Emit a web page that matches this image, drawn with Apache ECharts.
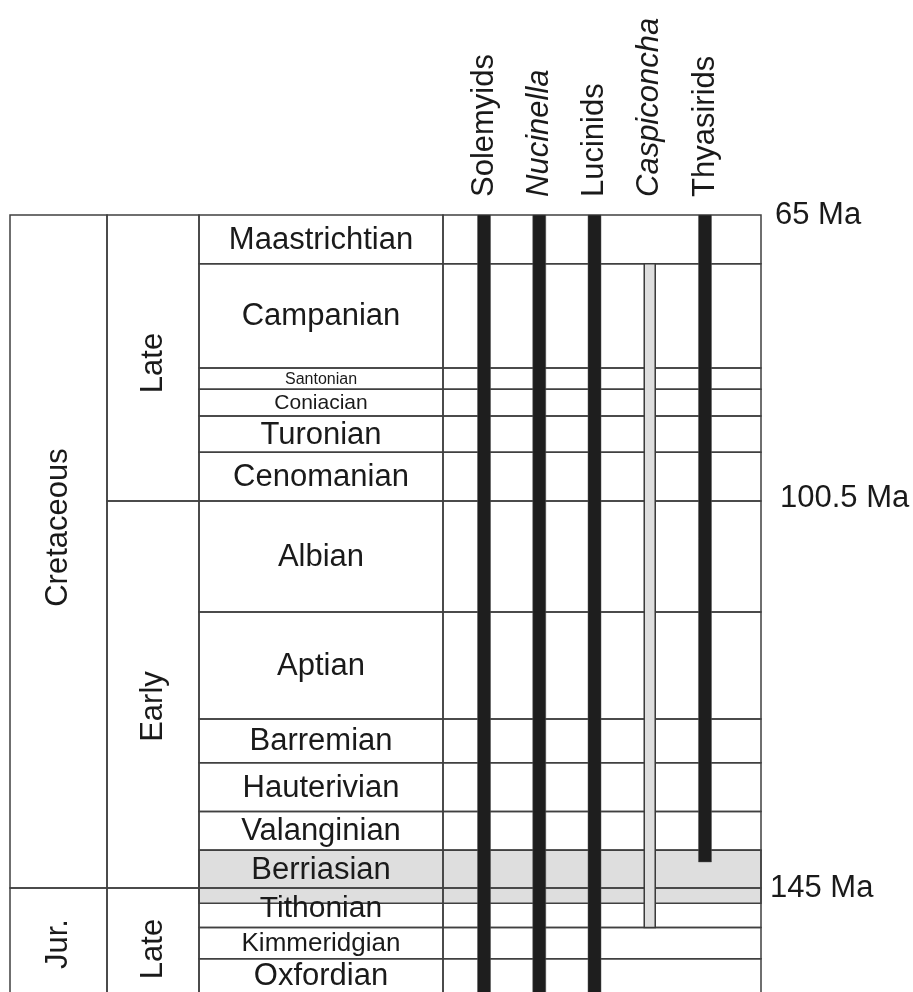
<!DOCTYPE html>
<html>
<head>
<meta charset="utf-8">
<script src="https://cdn.jsdelivr.net/npm/echarts@6/dist/echarts.min.js"></script>
<style>
  html, body { margin: 0; padding: 0; background: #fff; }
  #chart { width: 913px; height: 992px; }
</style>
</head>
<body>
<div id="chart"></div>
<script>
// time scale (schematic Ma scale, top of each unit / base)
const stages = ['Maastrichtian', 'Campanian', 'Santonian', 'Coniacian', 'Turonian', 'Cenomanian',
  'Albian', 'Aptian', 'Barremian', 'Hauterivian', 'Valanginian', 'Berriasian',
  'Tithonian', 'Kimmeridgian', 'Oxfordian']
const stageTop = [65, 70.8, 83.2, 85.7, 88.9, 93.2, 99.0, 112.2, 124.9, 130.1, 135.9, 140.5, 145.0, 149.7, 153.4]
const stageBase = [70.8, 83.2, 85.7, 88.9, 93.2, 99.0, 112.2, 124.9, 130.1, 135.9, 140.5, 145.0, 149.7, 153.4, 161]

const epochs = ['Late', 'Early', 'Late']
const epochTop = [65, 99.0, 145.0]
const epochBase = [99.0, 145.0, 161]

const periods = ['Cretaceous', 'Jur.']
const periodTop = [65, 145.0]
const periodBase = [145.0, 161]

// grey band round the J/K boundary
const bandTop = 140.5
const bandBase = 146.8

// ranges of the taxa
const taxa = ['Solemyids', 'Nucinella', 'Lucinids', 'Caspiconcha', 'Thyasirids']
const rangeTop = [65, 65, 65, 70.8, 65]
const rangeBase = [161, 161, 161, 149.7, 141.9]

const ageTicks = [65, 99.0, 145.0]
const ageLabels = ['65 Ma', '100.5 Ma', '145 Ma']

// ---- styling / layout ----
const FONT = 'Liberation Sans, Arial, sans-serif'
const INK = '#1a1a1a'
const LINE = '#404040'
const Y_MIN = 65
const Y_MAX = 161
const PX_PER_MA = 8.4125
const GRID_TOP = 215
const GRID_H = (Y_MAX - Y_MIN) * PX_PER_MA
const COLS = [[0, 97], [97, 189], [189, 433], [433, 751]] // period, epoch, stage, ranges
const italicTaxa = ['Nucinella', 'Caspiconcha']
const openTaxa = ['Caspiconcha']
const stageFont = { Santonian: 16, Coniacian: 21, Kimmeridgian: 26, Tithonian: 30 }
const labelDy = { Cretaceous: -24, Late: 5, Early: 12 }
const agePad = [0, 5, 0] // small nudges of the age labels

const cells = []
const cellNames = []
periods.forEach((p, i) => { cells.push([0, periodTop[i], periodBase[i]]); cellNames.push(p) })
epochs.forEach((p, i) => { cells.push([1, epochTop[i], epochBase[i]]); cellNames.push(p) })
stages.forEach((p, i) => { cells.push([2, stageTop[i], stageBase[i]]); cellNames.push(p) })
stages.forEach((p, i) => { cells.push([3, stageTop[i], stageBase[i]]); cellNames.push('') })

const chart = echarts.init(document.getElementById('chart'), null, { renderer: 'canvas' })

const renderBand = (params, api) => {
  const cs = params.coordSys
  const y0 = api.coord([0, api.value(0)])[1]
  const y1 = api.coord([0, api.value(1)])[1]
  return {
    type: 'rect',
    shape: { x: cs.x + COLS[2][0], y: y0, width: COLS[3][1] - COLS[2][0], height: y1 - y0 },
    style: { fill: '#dedede', stroke: LINE, lineWidth: 1.5 }
  }
}

const renderCell = (params, api) => {
  const cs = params.coordSys
  const col = api.value(0)
  const y0 = api.coord([0, api.value(1)])[1]
  const y1 = api.coord([0, api.value(2)])[1]
  const x0 = cs.x + COLS[col][0]
  const x1 = cs.x + COLS[col][1]
  const name = cellNames[params.dataIndex]
  const children = [{
    type: 'rect',
    shape: { x: x0, y: y0, width: x1 - x0, height: y1 - y0 },
    style: { fill: 'none', stroke: LINE, lineWidth: 1.5 }
  }]
  if (name) {
    if (col === 2) {
      children.push({
        type: 'text',
        x: (x0 + x1) / 2,
        y: (y0 + Math.min(y1, 992)) / 2 + 1,
        style: {
          text: name, fill: INK, align: 'center', verticalAlign: 'middle',
          font: (stageFont[name] || 31) + 'px ' + FONT
        }
      })
    } else {
      children.push({
        type: 'text',
        x: (x0 + x1) / 2,
        y: (y0 + Math.min(y1, 1000)) / 2 + (labelDy[name] || 0),
        rotation: Math.PI / 2,
        style: {
          text: name, fill: INK, align: 'center', verticalAlign: 'middle',
          font: '31px ' + FONT
        }
      })
    }
  }
  return { type: 'group', children }
}

const renderRange = (params, api) => {
  const x = api.coord([api.value(0), Y_MIN])[0]
  const y0 = api.coord([api.value(0), api.value(1)])[1]
  const y1 = api.coord([api.value(0), api.value(2)])[1]
  const open = openTaxa.includes(taxa[params.dataIndex])
  const w = open ? 11 : 13
  return {
    type: 'rect',
    shape: { x: x - w / 2, y: y0, width: w, height: y1 - y0 },
    style: open
      ? { fill: '#dedede', stroke: '#3a3a3a', lineWidth: 1.5 }
      : { fill: '#1e1e1e', stroke: '#555', lineWidth: 0.5 }
  }
}

chart.setOption({
  animation: false,
  backgroundColor: '#fff',
  grid: [
    { left: 10, width: 751, top: GRID_TOP, height: GRID_H, containLabel: false, outerBoundsMode: 'none' },
    { left: 456.4, width: 276.2, top: GRID_TOP, height: GRID_H, containLabel: false, outerBoundsMode: 'none' }
  ],
  xAxis: [
    { gridIndex: 0, type: 'value', min: 0, max: 751, show: false },
    {
      gridIndex: 1,
      type: 'category',
      data: taxa,
      position: 'top',
      axisLine: { show: false },
      axisTick: { show: false },
      splitLine: { show: false },
      axisLabel: {
        interval: 0,
        rotate: -90,
        margin: 18,
        fontSize: 31,
        fontFamily: FONT,
        color: INK,
        formatter: (v) => (italicTaxa.includes(v) ? '{i|' + v + '}' : v),
        rich: { i: { fontStyle: 'italic', fontSize: 31, fontFamily: FONT, color: INK } }
      }
    }
  ],
  yAxis: [
    {
      gridIndex: 0,
      type: 'value',
      inverse: true,
      min: Y_MIN,
      max: Y_MAX,
      position: 'right',
      axisLine: { show: false },
      axisTick: { show: false },
      splitLine: { show: false },
      axisLabel: {
        customValues: ageTicks,
        margin: 9,
        fontSize: 31,
        fontFamily: FONT,
        color: INK,
        formatter: (v) => {
          const i = ageTicks.findIndex((t) => Math.abs(t - v) < 0.01)
          return i < 0 ? '' : '{p' + i + '|' + ageLabels[i] + '}'
        },
        rich: {
          p0: { fontSize: 31, fontFamily: FONT, color: INK, padding: [0, 0, 0, 5] },
          p1: { fontSize: 31, fontFamily: FONT, color: INK, padding: [0, 0, 6, 10] },
          p2: { fontSize: 31, fontFamily: FONT, color: INK, padding: [0, 0, 0, 0] }
        }
      }
    },
    { gridIndex: 1, type: 'value', inverse: true, min: Y_MIN, max: Y_MAX, show: false }
  ],
  series: [
    {
      type: 'custom',
      xAxisIndex: 0,
      yAxisIndex: 0,
      renderItem: renderBand,
      data: [[bandTop, bandBase]],
      silent: true,
      z: 1
    },
    {
      type: 'custom',
      xAxisIndex: 0,
      yAxisIndex: 0,
      renderItem: renderCell,
      data: cells,
      silent: true,
      z: 2
    },
    {
      type: 'custom',
      xAxisIndex: 1,
      yAxisIndex: 1,
      renderItem: renderRange,
      data: taxa.map((t, i) => [i, rangeTop[i], rangeBase[i]]),
      silent: true,
      z: 3
    }
  ]
})
</script>
</body>
</html>
